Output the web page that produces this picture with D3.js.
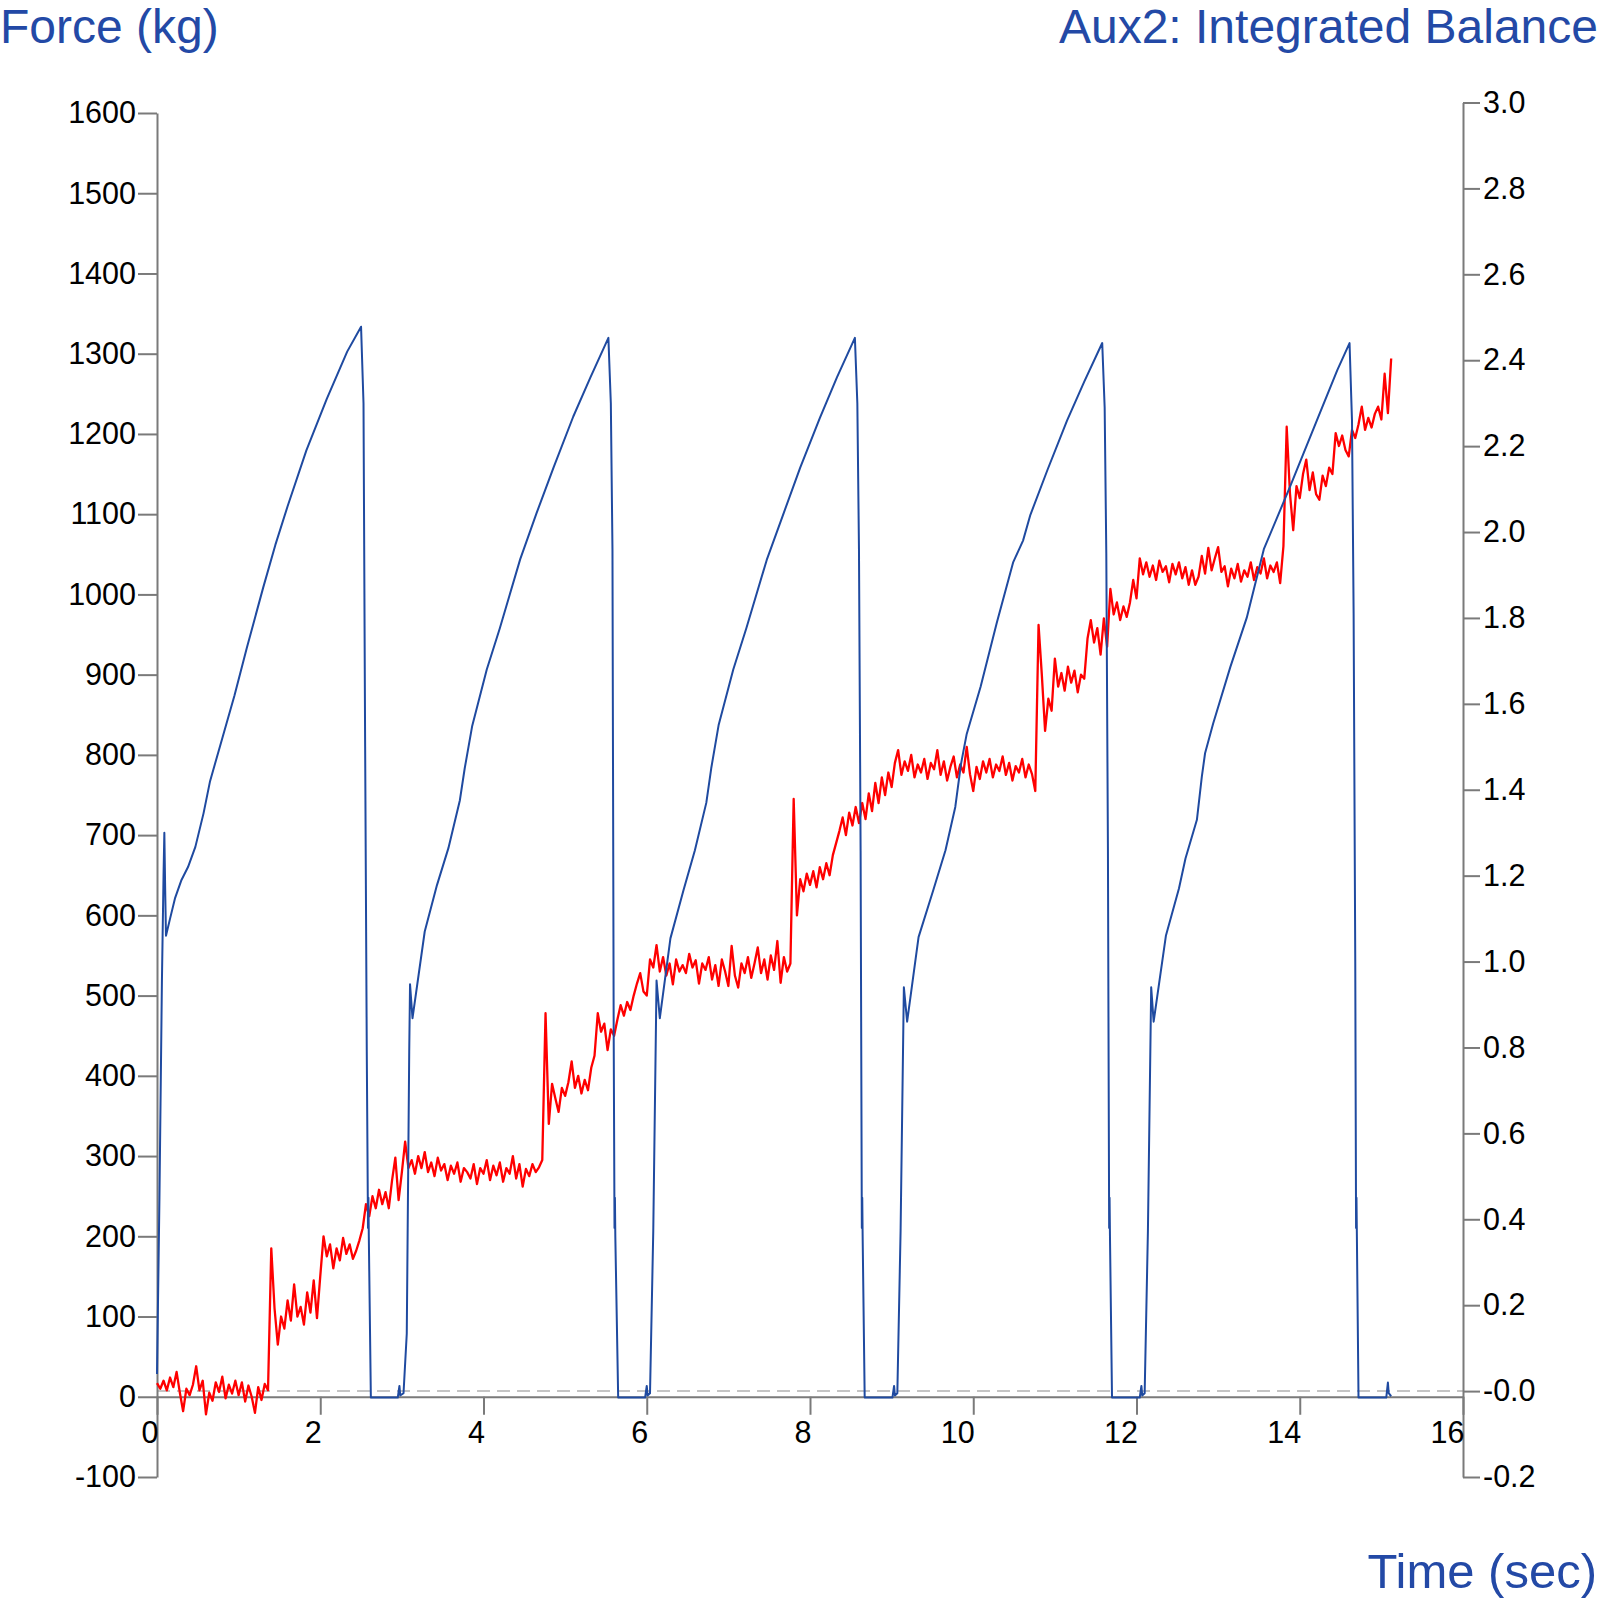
<!DOCTYPE html>
<html>
<head>
<meta charset="utf-8">
<script src="https://cdn.jsdelivr.net/npm/d3@7"></script>
<style>
  body { margin: 0; background: #fff; }
  text { font-family: "Liberation Sans", Arial, sans-serif; }
</style>
</head>
<body>
<div id="chart"></div>
<script>
/* Force + integrated balance, dual axis */

const width = 1600,
    height = 1600,
    margin = ({ top: 113, right: 137, bottom: 123, left: 157 });

// tick values and labels
const timeTicks = [0, 2, 4, 6, 8, 10, 12, 14, 16];
const forceTicks = [-100, 0, 100, 200, 300, 400, 500, 600, 700, 800, 900, 1000, 1100, 1200, 1300, 1400, 1500, 1600];
const auxTicks = [-0.2, 0, 0.2, 0.4, 0.6, 0.8, 1.0, 1.2, 1.4, 1.6, 1.8, 2.0, 2.2, 2.4, 2.6, 2.8, 3.0];
const auxTickLabels = ["-0.2", "-0.0", "0.2", "0.4", "0.6", "0.8", "1.0", "1.2", "1.4", "1.6", "1.8", "2.0", "2.2", "2.4", "2.6", "2.8", "3.0"];

// force samples (kg), one every forceStep seconds, one row per second
const forceStep = 0.04;
const forceValues = [
  17, 10, 20, 8, 24, 12, 31, 5, -18, 10, 2, 15, 38, 8, 20, -22, 5, -5, 18, 6, 25, -2, 15, 4, 20,
  2, 18, -6, 14, 0, -20, 12, -4, 16, 8, 185, 110, 65, 100, 85, 120, 95, 140, 100, 112, 90, 130, 105, 145, 98,
  150, 200, 175, 190, 160, 185, 170, 198, 178, 190, 172, 182, 195, 210, 240, 225, 250, 235, 258, 240, 255, 235, 270, 298, 245,
  280, 318, 285, 295, 278, 300, 285, 305, 280, 292, 275, 298, 282, 290, 270, 288, 278, 292, 268, 285, 280, 272, 290, 265, 285,
  278, 295, 270, 288, 276, 292, 268, 285, 278, 300, 272, 290, 262, 284, 275, 290, 280, 286, 295, 478, 340, 390, 372, 355, 385,
  375, 392, 418, 385, 400, 378, 395, 382, 410, 425, 478, 455, 465, 432, 458, 450, 470, 488, 475, 492, 482, 500, 515, 528, 505,
  500, 545, 535, 563, 530, 548, 525, 540, 514, 545, 530, 538, 528, 552, 535, 544, 515, 540, 532, 548, 520, 538, 512, 545, 530,
  512, 562, 525, 510, 540, 528, 548, 522, 540, 560, 528, 545, 520, 550, 532, 568, 516, 548, 530, 540, 745, 600, 645, 630, 652,
  638, 655, 635, 660, 645, 665, 650, 675, 690, 705, 722, 700, 728, 712, 735, 715, 740, 720, 752, 730, 765, 740, 772, 750, 778,
  760, 790, 806, 775, 792, 780, 800, 772, 788, 778, 795, 770, 790, 782, 806, 775, 792, 768, 785, 798, 772, 788, 778, 810, 776,
  755, 785, 770, 792, 778, 795, 772, 788, 780, 798, 775, 790, 768, 786, 778, 795, 772, 788, 776, 755, 962, 900, 830, 870, 855,
  920, 885, 902, 880, 910, 890, 905, 878, 900, 895, 945, 968, 940, 958, 925, 970, 935, 1007, 975, 990, 968, 985, 972, 990, 1018,
  995, 1045, 1025, 1040, 1022, 1036, 1018, 1042, 1028, 1035, 1015, 1038, 1025, 1040, 1020, 1034, 1012, 1030, 1012, 1022, 1048, 1026, 1058, 1030, 1045,
  1059, 1028, 1035, 1010, 1032, 1020, 1038, 1016, 1030, 1022, 1040, 1018, 1034, 1026, 1045, 1020, 1036, 1028, 1040, 1014, 1060, 1209, 1126, 1080, 1135,
  1120, 1150, 1168, 1130, 1152, 1125, 1118, 1148, 1135, 1158, 1150, 1201, 1185, 1198, 1180, 1172, 1205, 1195, 1212, 1234, 1205, 1220, 1208, 1225, 1234,
  1218, 1275, 1226, 1294
];

// integrated balance, [time (sec), value]
const auxPoints = [
  [0.00, 0.04], [0.03, 0.45], [0.06, 0.95], [0.08, 1.20], [0.09, 1.30], [0.10, 1.17], [0.11, 1.06],
  [0.16, 1.10], [0.22, 1.147], [0.30, 1.19], [0.38, 1.22], [0.47, 1.267], [0.57, 1.345], [0.65, 1.42],
  [0.80, 1.52], [0.95, 1.62], [1.10, 1.73], [1.20, 1.80], [1.30, 1.87], [1.45, 1.97], [1.60, 2.06],
  [1.83, 2.19], [2.08, 2.31], [2.33, 2.42], [2.50, 2.478],
  [2.53, 2.30], [2.55, 1.50], [2.57, 0.79], [2.585, 0.38], [2.59, 0.45], [2.595, 0.36], [2.62, -0.015],
  [2.95, -0.015], [2.97, 0.012], [2.98, -0.01], [3.02, -0.005], [3.06, 0.134], [3.09, 0.79], [3.10, 0.947],
  [3.13, 0.868], [3.28, 1.07], [3.43, 1.178], [3.57, 1.264], [3.71, 1.375], [3.77, 1.45], [3.86, 1.547],
  [4.04, 1.68], [4.20, 1.776], [4.45, 1.937], [4.65, 2.044], [4.86, 2.151], [5.10, 2.269], [5.31, 2.36],
  [5.53, 2.452],
  [5.56, 2.30], [5.58, 1.96], [5.595, 0.83], [5.605, 0.38], [5.61, 0.45], [5.615, 0.36], [5.65, -0.015],
  [5.98, -0.015], [6.00, 0.012], [6.01, -0.01], [6.04, -0.005], [6.08, 0.374], [6.12, 0.956], [6.16, 0.868],
  [6.29, 1.054], [6.45, 1.166], [6.59, 1.259], [6.73, 1.37], [6.79, 1.45], [6.88, 1.55], [7.06, 1.68],
  [7.22, 1.776], [7.47, 1.935], [7.67, 2.04], [7.88, 2.15], [8.12, 2.265], [8.33, 2.36], [8.55, 2.452],
  [8.58, 2.30], [8.60, 1.96], [8.62, 1.258], [8.625, 0.96], [8.635, 0.38], [8.64, 0.45], [8.645, 0.36], [8.67, -0.015],
  [9.01, -0.015], [9.03, 0.012], [9.04, -0.01], [9.07, -0.005], [9.11, 0.374], [9.15, 0.94], [9.19, 0.86],
  [9.33, 1.057], [9.51, 1.166], [9.66, 1.259], [9.78, 1.36], [9.85, 1.46], [9.92, 1.53], [10.09, 1.64],
  [10.29, 1.79], [10.49, 1.93], [10.61, 1.98], [10.70, 2.04], [10.91, 2.145], [11.15, 2.26], [11.36, 2.35], [11.58, 2.44],
  [11.61, 2.29], [11.63, 1.95], [11.65, 1.26], [11.655, 0.96], [11.665, 0.38], [11.67, 0.45], [11.675, 0.36], [11.70, -0.015],
  [12.04, -0.015], [12.06, 0.012], [12.07, -0.01], [12.10, -0.005], [12.14, 0.374], [12.18, 0.94], [12.21, 0.86],
  [12.36, 1.06], [12.52, 1.17], [12.60, 1.24], [12.74, 1.33], [12.80, 1.43], [12.84, 1.485], [12.94, 1.555],
  [13.15, 1.686], [13.35, 1.80], [13.56, 1.96], [13.88, 2.105], [14.21, 2.26], [14.46, 2.377], [14.61, 2.44],
  [14.64, 2.26], [14.66, 1.81], [14.68, 1.00], [14.69, 0.38], [14.695, 0.45], [14.70, 0.36], [14.72, -0.015],
  [15.06, -0.015], [15.08, 0.02], [15.09, -0.005], [15.12, -0.012]
];

const axisColor = "#7a7a7a",
    titleColor = "#2349a6";

const svg = d3.select("#chart")
    .append("svg")
    .attr("width", width)
    .attr("height", height)
    .attr("viewBox", [0, 0, width, height]);

let x = d3.scaleLinear()
    .domain([0, 16])
    .range([margin.left, width - margin.right]);

let yForce = d3.scaleLinear()
    .domain([-100, 1600])
    .range([height - margin.bottom, margin.top]);

let yAux = d3.scaleLinear()
    .domain([-0.2, 3.0])
    .range([height - margin.bottom, 102.5]);

// style an axis group the same way
function styleAxis(g) {
    g.selectAll("path, line").attr("stroke", axisColor).attr("stroke-width", 2);
    g.selectAll("text").attr("fill", "#000").style("font-size", "30.5px")
      .style("font-family", "'Liberation Sans', Arial, sans-serif");
}

// dashed zero line of the balance channel
svg.append("line")
    .attr("x1", x(0))
    .attr("x2", x(16))
    .attr("y1", yAux(0))
    .attr("y2", yAux(0))
    .attr("stroke", "#c4c4c4")
    .attr("stroke-width", 2)
    .attr("stroke-dasharray", "13,7");

// left axis (plain hyphen for negatives)
svg.append("g")
    .attr("transform", `translate(${margin.left},0)`)
    .call(d3.axisLeft(yForce).tickValues(forceTicks).tickSize(19).tickSizeOuter(0).tickPadding(2).tickFormat(d => String(d)))
    .call(styleAxis);

// right axis
svg.append("g")
    .attr("transform", `translate(${width - margin.right},0)`)
    .call(d3.axisRight(yAux).tickValues(auxTicks).tickSize(17).tickSizeOuter(0).tickPadding(3)
        .tickFormat((d, i) => auxTickLabels[i]))
    .call(styleAxis);

// time axis sits on force = 0
svg.append("g")
    .attr("transform", `translate(0,${yForce(0)})`)
    .call(d3.axisBottom(x).tickValues(timeTicks).tickSize(18).tickSizeOuter(0).tickPadding(7).tickFormat(d => String(d)))
    .call(styleAxis)
    .call(g => g.selectAll("text").attr("text-anchor", "end").attr("x", 1));

// force line
let forceLine = d3.line()
    .x((d, i) => x(i * forceStep))
    .y(d => yForce(d));

svg.append("path")
    .datum(forceValues)
    .attr("d", forceLine)
    .attr("fill", "none")
    .attr("stroke", "#ff0000")
    .attr("stroke-width", 2.3)
    .attr("stroke-linejoin", "round");

// balance line
let auxLine = d3.line()
    .x(d => x(d[0]))
    .y(d => yAux(d[1]));

svg.append("path")
    .datum(auxPoints)
    .attr("d", auxLine)
    .attr("fill", "none")
    .attr("stroke", "#1f4aa0")
    .attr("stroke-width", 2)
    .attr("stroke-linejoin", "round");

// titles
svg.append("text")
    .attr("x", 0)
    .attr("y", 43)
    .attr("fill", titleColor)
    .style("font-size", "48px")
    .text("Force (kg)");

svg.append("text")
    .attr("x", width - 2)
    .attr("y", 43)
    .attr("text-anchor", "end")
    .attr("fill", titleColor)
    .style("font-size", "48px")
    .text("Aux2: Integrated Balance");

svg.append("text")
    .attr("x", width - 3)
    .attr("y", 1588)
    .attr("text-anchor", "end")
    .attr("fill", titleColor)
    .style("font-size", "49px")
    .text("Time (sec)");
</script>
</body>
</html>
